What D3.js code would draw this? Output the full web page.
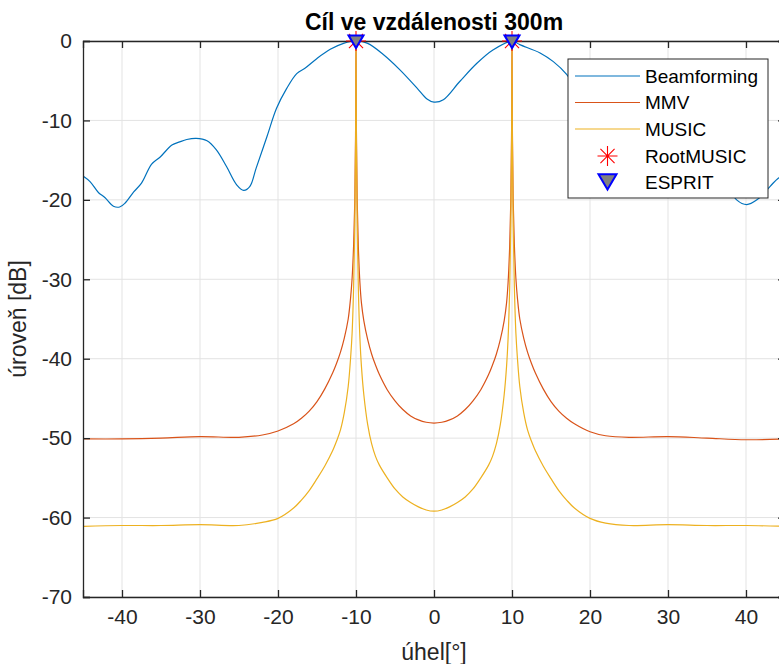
<!DOCTYPE html>
<html>
<head>
<meta charset="utf-8">
<script src="https://cdn.jsdelivr.net/npm/d3@7"></script>
<style>
  html, body { margin: 0; padding: 0; background: #fff; }
  svg { display: block; font-family: "Liberation Sans", Arial, Helvetica, sans-serif; }
</style>
</head>
<body>
<svg id="chart" width="779" height="664"></svg>
<script>
// ---------- DATA ----------
const title = "Cíl ve vzdálenosti 300m";
const xLabel = "úhel[°]";
const yLabel = "úroveň [dB]";
const xTicks = [-40, -30, -20, -10, 0, 10, 20, 30, 40];
const yTicks = [0, -10, -20, -30, -40, -50, -60, -70];
const seriesNames = ["Beamforming", "MMV", "MUSIC", "RootMUSIC", "ESPRIT"];

const bfAngle = [-45,-44.1,-43,-42.2,-41.1,-40.3,-39.6,-38.5,-37.5,-36.2,-35.1,-33.6,-32.6,-31.7,-30.5,-29.1,-27.9,-26.6,-25.3,-24.4,-23.6,-22.8,-21.4,-20.2,-18.9,-17.6,-16.5,-15,-13.3,-11.6,-10,-8.5,-6.5,-4.4,-2.2,-0.9,0,1.2,3.3,5.5,7.6,10,11,13.6,15.3,17,18.3,19.6,21,22.4,23.5,24.3,25.3,26.6,27.9,29.2,30.5,31.7,33,34.3,35.3,36.5,37.6,38.8,40.1,41.4,43.1,44.1,45];
const bfLevel = [-17.0,-17.7,-19.1,-19.7,-20.8,-20.9,-20.4,-19.0,-17.9,-15.5,-14.6,-13.1,-12.7,-12.4,-12.25,-12.55,-13.7,-15.8,-18.1,-18.8,-18.3,-16.0,-12.0,-8.5,-6.0,-4.1,-3.4,-2.2,-1.05,-0.3,0,-0.3,-1.7,-3.6,-5.9,-7.3,-7.7,-7.4,-5.1,-2.8,-1.1,0,-0.46,-1.5,-2.6,-4.2,-6.2,-8.6,-12.5,-16.2,-18.4,-18.9,-18.1,-15.8,-13.6,-12.5,-12.3,-12.5,-13.0,-14.2,-15.0,-16.2,-18.2,-20.0,-20.6,-20.0,-18.3,-17.3,-16.9];

const specAngle = [-45,-40,-35,-30,-25,-22,-20,-18,-17,-16,-15,-14,-13,-12.5,-12,-11.5,-11,-10.7,-10.5,-10.3,-10.15,-10.05,-10,-9.95,-9.85,-9.7,-9.5,-9.3,-9,-8.5,-8,-7.5,-7,-6,-5,-4,-3,-2,-1,0,
  1,2,3,4,5,6,7,7.5,8,8.5,9,9.3,9.5,9.7,9.85,9.95,10,10.05,10.15,10.3,10.5,10.7,11,11.5,12,12.5,13,14,15,16,17,18,20,22,25,30,35,40,45];
const mmvLevel = [-50.1,-50.1,-50.0,-49.8,-49.9,-49.6,-49.1,-48.2,-47.5,-46.6,-45.4,-43.8,-41.8,-40.6,-39.2,-37.4,-35.0,-32.4,-29.9,-25.6,-20.0,-11.0,0,-11.0,-20.0,-25.9,-30.4,-33.0,-35.2,-37.6,-39.4,-40.8,-42.0,-43.9,-45.3,-46.4,-47.2,-47.7,-48.0,-48.1,
  -48.0,-47.7,-47.2,-46.4,-45.3,-43.9,-42.0,-40.8,-39.4,-37.6,-35.2,-33.0,-30.4,-25.9,-20.0,-11.0,0,-11.0,-20.0,-25.6,-29.9,-32.4,-35.0,-37.4,-39.2,-40.6,-41.8,-43.8,-45.4,-46.6,-47.5,-48.2,-49.2,-49.7,-49.9,-49.8,-50.0,-50.2,-50.1];
const musicLevel = [-61.1,-61.0,-61.0,-60.9,-61.0,-60.6,-60.1,-58.8,-57.8,-56.6,-55.1,-53.5,-51.6,-50.4,-49.0,-46.8,-43.5,-40.0,-36.8,-30.8,-23.0,-12.5,0,-12.5,-23.0,-31.2,-37.4,-41.0,-44.5,-48.3,-50.7,-52.3,-53.4,-55.0,-56.4,-57.4,-58.1,-58.65,-59.05,-59.2,
  -59.05,-58.65,-58.1,-57.4,-56.4,-55.0,-53.4,-52.3,-50.7,-48.3,-44.5,-41.0,-37.4,-31.2,-23.0,-12.5,0,-12.5,-23.0,-30.8,-36.8,-40.0,-43.5,-46.8,-49.0,-50.4,-51.6,-53.5,-55.1,-56.6,-57.8,-58.8,-60.1,-60.7,-61.0,-60.9,-61.0,-61.0,-61.1];

const rootMusicAngle = [-10, 10];
const rootMusicLevel = [0, 0];
const espritAngle = [-10, 10];
const espritLevel = [0, 0];

// ---------- LAYOUT ----------
const L = 83, R = 785, T = 41, B = 597;
const colors = { bf: "#0072BD", mmv: "#D95319", music: "#EDB120" };
const axisColor = "#262626";

const svg = d3.select("#chart");
const x = d3.scaleLinear().domain([-45, 45]).range([L, R]);
const y = d3.scaleLinear().domain([-70, 0]).range([B, T]);

svg.append("defs").append("clipPath").attr("id", "clip")
  .append("rect").attr("x", L).attr("y", T).attr("width", R - L).attr("height", B - T);

// grid
const grid = svg.append("g");
grid.selectAll("line.gx").data(xTicks).enter().append("line")
  .attr("x1", d => x(d)).attr("x2", d => x(d)).attr("y1", T).attr("y2", B)
  .attr("stroke", "#e3e3e3").attr("stroke-width", 1);
grid.selectAll("line.gy").data(yTicks).enter().append("line")
  .attr("x1", L).attr("x2", R).attr("y1", d => y(d)).attr("y2", d => y(d))
  .attr("stroke", "#e3e3e3").attr("stroke-width", 1);

// lines
const lineGen = (xs, ys) => d3.line().curve(d3.curveCatmullRom.alpha(0.5))
  .x((d, i) => x(xs[i])).y((d, i) => y(ys[i]))(xs);
const plot = svg.append("g").attr("clip-path", "url(#clip)");
plot.append("path").attr("d", lineGen(bfAngle, bfLevel)).attr("fill", "none")
  .attr("stroke", colors.bf).attr("stroke-width", 1.2);
plot.append("path").attr("d", lineGen(specAngle, mmvLevel)).attr("fill", "none")
  .attr("stroke", colors.mmv).attr("stroke-width", 1.2);
plot.append("path").attr("d", lineGen(specAngle, musicLevel)).attr("fill", "none")
  .attr("stroke", colors.music).attr("stroke-width", 1.2);

// axes
const fmt = d => d < 0 ? "-" + Math.abs(d) : String(d);
const xAxisB = d3.axisBottom(x).tickValues(xTicks).tickSize(-7).tickPadding(12).tickFormat(fmt);
const xAxisT = d3.axisTop(x).tickValues(xTicks).tickSize(-7).tickFormat("");
const yAxisL = d3.axisLeft(y).tickValues(yTicks).tickSize(-7).tickPadding(11).tickFormat(fmt);
const yAxisR = d3.axisRight(y).tickValues(yTicks).tickSize(-7).tickFormat("");

function styleAxis(g) {
  g.select(".domain").attr("stroke", axisColor).attr("stroke-width", 1.3);
  g.selectAll(".tick line").attr("stroke", axisColor).attr("stroke-width", 1.3);
  g.selectAll(".tick text").attr("fill", axisColor).style("font-size", "21px")
    .style("font-family", "'Liberation Sans', Arial, sans-serif");
}
svg.append("g").attr("transform", `translate(0,${B})`).call(xAxisB).call(styleAxis);
svg.append("g").attr("transform", `translate(0,${T})`).call(xAxisT).call(styleAxis);
svg.append("g").attr("transform", `translate(${L},0)`).call(yAxisL).call(styleAxis);
svg.append("g").attr("transform", `translate(${R},0)`).call(yAxisR).call(styleAxis);

// markers
function asterisk(g, cx, cy, r, color) {
  const d = r * Math.SQRT1_2;
  g.append("path")
    .attr("d", `M${cx - r},${cy}H${cx + r}M${cx},${cy - r}V${cy + r}M${cx - d},${cy - d}L${cx + d},${cy + d}M${cx - d},${cy + d}L${cx + d},${cy - d}`)
    .attr("stroke", color).attr("stroke-width", 1.1).attr("fill", "none");
}
function triDown(g, cx, cy, s) {
  g.append("path")
    .attr("d", `M${cx - s},${cy - s * 0.75}L${cx + s},${cy - s * 0.75}L${cx},${cy + s * 0.95}Z`)
    .attr("fill", "#808080").attr("stroke", "#0000FF").attr("stroke-width", 2).attr("stroke-linejoin", "miter");
}
const mk = svg.append("g");
rootMusicAngle.forEach((a, i) => asterisk(mk, x(a), y(rootMusicLevel[i]), 10, "#FF0000"));
espritAngle.forEach((a, i) => triDown(mk, x(a), y(espritLevel[i]), 7.5));

// title & labels
svg.append("text").attr("x", (L + R) / 2).attr("y", 30).attr("text-anchor", "middle")
  .style("font-size", "23px").style("font-weight", "bold").attr("fill", "#000").text(title);
svg.append("text").attr("x", (L + R) / 2).attr("y", 660).attr("text-anchor", "middle")
  .style("font-size", "23px").attr("fill", axisColor).text(xLabel);
svg.append("text").attr("transform", `translate(26,${(T + B) / 2}) rotate(-90)`).attr("text-anchor", "middle")
  .style("font-size", "23px").attr("fill", axisColor).text(yLabel);

// legend
const lg = svg.append("g");
const lgX = 568, lgY = 59, lgW = 200, lgH = 139;
lg.append("rect").attr("x", lgX).attr("y", lgY).attr("width", lgW).attr("height", lgH)
  .attr("fill", "#fff").attr("stroke", "#262626").attr("stroke-width", 1);
const rowY = [76, 102.5, 129, 156, 182];
const lineColors = [colors.bf, colors.mmv, colors.music];
seriesNames.forEach((name, i) => {
  const cy = rowY[i];
  if (i < 3) {
    lg.append("line").attr("x1", 575).attr("x2", 640).attr("y1", cy).attr("y2", cy)
      .attr("stroke", lineColors[i]).attr("stroke-width", 1.2);
  } else if (i === 3) {
    asterisk(lg, 607.5, cy, 10, "#FF0000");
  } else {
    triDown(lg, 607.5, cy - 1, 9);
  }
  lg.append("text").attr("x", 645).attr("y", cy).attr("dy", "0.35em")
    .style("font-size", "19px").attr("fill", "#000").text(name);
});
</script>
</body>
</html>
